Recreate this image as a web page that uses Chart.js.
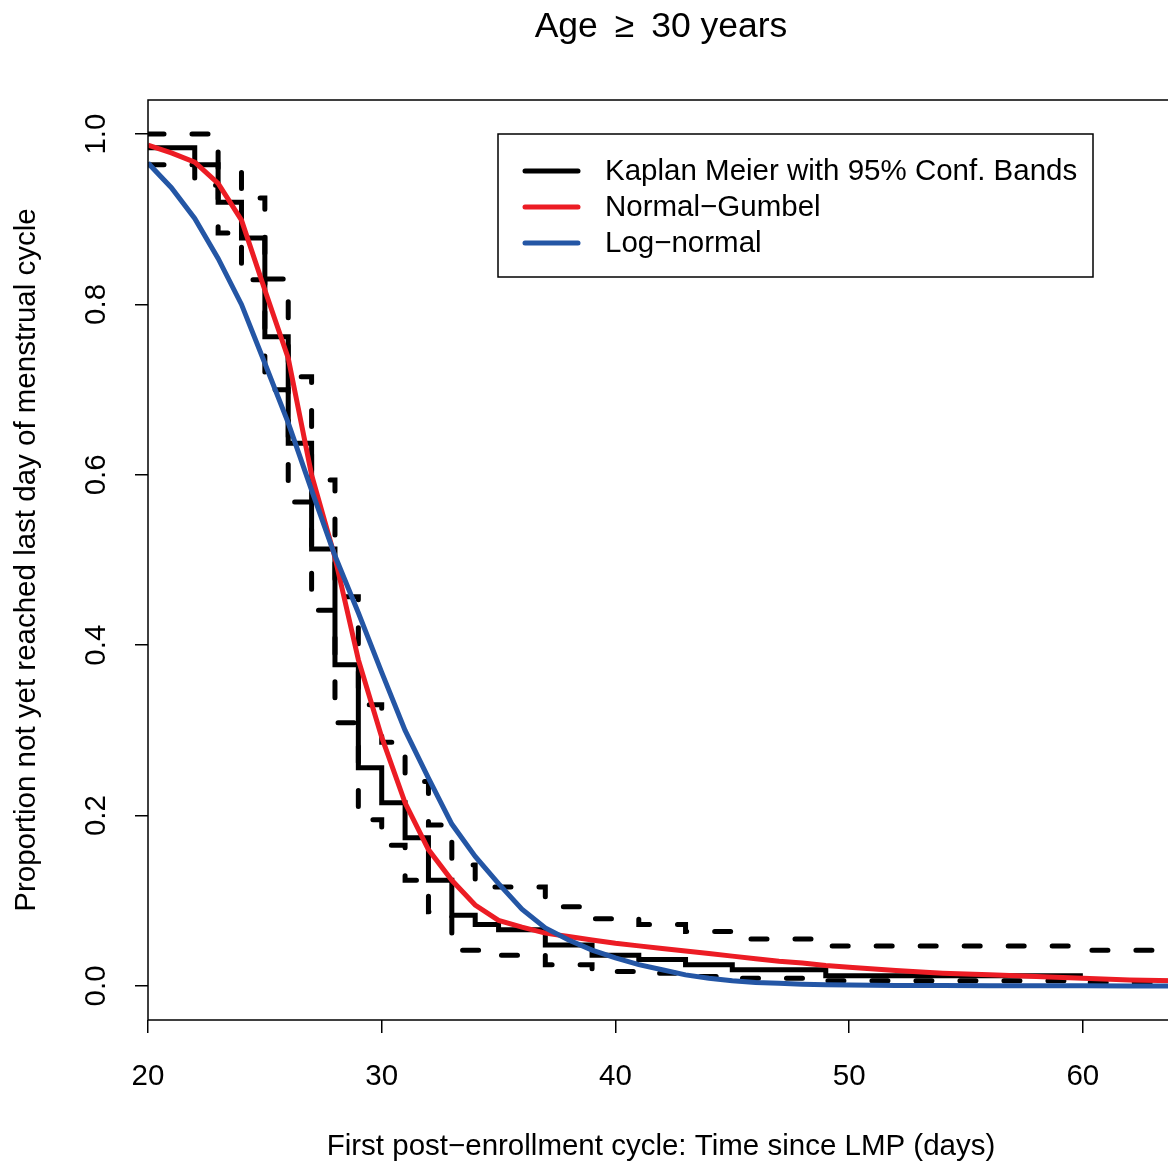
<!DOCTYPE html>
<html>
<head>
<meta charset="utf-8">
<title>Age ≥ 30 years</title>
<script src="https://cdn.jsdelivr.net/npm/chart.js@4/dist/chart.umd.min.js"></script>
<style>
  html, body { margin: 0; padding: 0; background: #fff; overflow: hidden; }
  canvas { display: block; }
</style>
</head>
<body>
<canvas id="chartSurvival" width="1176" height="1165"></canvas>
<script>
// Kaplan-Meier estimate: step times (days) and proportion remaining
const kmDays = [20, 22, 23, 24, 25, 26, 27, 28, 29, 30, 31, 32, 33, 34, 35, 37, 39, 41, 43, 45, 49, 60];
const kmSurv = [0.984, 0.964, 0.920, 0.878, 0.762, 0.637, 0.513, 0.377, 0.256, 0.215, 0.174,
                0.124, 0.083, 0.072, 0.066, 0.048, 0.036, 0.031, 0.025, 0.019, 0.012, 0.012];

// 95% confidence bands (same steps, carried to the right edge)
const bandDays  = [20, 22, 23, 24, 25, 26, 27, 28, 29, 30, 31, 32, 33, 34, 35, 37, 39, 41, 43, 45, 49, 60, 64];
const bandUpper = [1.000, 1.000, 0.960, 0.925, 0.830, 0.715, 0.594, 0.457, 0.330, 0.286, 0.240, 0.189,
                   0.142, 0.116, 0.116, 0.093, 0.079, 0.072, 0.064, 0.055, 0.047, 0.042, 0.042];
const bandLower = [0.964, 0.940, 0.884, 0.829, 0.700, 0.568, 0.441, 0.309, 0.195, 0.165, 0.124, 0.087,
                   0.042, 0.042, 0.036, 0.025, 0.017, 0.015, 0.011, 0.009, 0.006, 0.004, 0.004];

// Fitted survival curves
const fitDays = [20, 21, 22, 23, 24, 25, 26, 27, 28, 29, 30, 31, 32, 33, 34, 35, 36, 37, 38, 39,
                 40, 41, 42, 43, 44, 45, 46, 47, 48, 49, 50, 52, 54, 56, 58, 60, 62, 64];
const normalGumbel = [0.987, 0.978, 0.967, 0.942, 0.899, 0.817, 0.737, 0.600, 0.503, 0.383,
                      0.292, 0.215, 0.160, 0.124, 0.095, 0.077, 0.069, 0.062, 0.058, 0.054,
                      0.050, 0.047, 0.044, 0.041, 0.038, 0.035, 0.032, 0.029, 0.027, 0.024,
                      0.022, 0.018, 0.015, 0.013, 0.011, 0.009, 0.007, 0.006];
const logNormal = [0.966, 0.937, 0.901, 0.854, 0.800, 0.731, 0.661, 0.582, 0.505, 0.438,
                   0.368, 0.300, 0.244, 0.190, 0.152, 0.120, 0.090, 0.068, 0.054, 0.042,
                   0.033, 0.025, 0.019, 0.013, 0.009, 0.006, 0.004, 0.003, 0.002, 0.0015,
                   0.001, 0.0006, 0.0004, 0.0002, 0.0001, 0.0001, 0, 0];

const xTicks = [20, 30, 40, 50, 60];
const yTicks = [0, 0.2, 0.4, 0.6, 0.8, 1.0];

const red = '#EC1C24';
const blue = '#2456A5';
const FONT = '"Liberation Sans", Arial, Helvetica, sans-serif';

const legendItems = [
  { text: 'Kaplan Meier with 95% Conf. Bands', color: '#000000' },
  { text: 'Normal\u2212Gumbel', color: red },
  { text: 'Log\u2212normal', color: blue },
];

function pts(xs, ys) {
  return xs.map((x, i) => ({ x: x, y: ys[i] }));
}

// box around the plot, main title and legend
const decorations = {
  id: 'decorations',
  afterDraw(chart) {
    const { ctx, chartArea: a } = chart;
    ctx.save();
    ctx.strokeStyle = '#000';
    ctx.lineWidth = 1.5;
    ctx.strokeRect(a.left, a.top, a.right - a.left, a.bottom - a.top);

    ctx.fillStyle = '#000';
    ctx.font = '35.5px ' + FONT;
    ctx.textAlign = 'center';
    ctx.textBaseline = 'alphabetic';
    ctx.fillText('Age \u2009\u2265\u2009 30 years', (a.left + a.right) / 2, 37);

    const lx = a.left + 350, ly = a.top + 34;
    ctx.fillStyle = '#fff';
    ctx.fillRect(lx, ly, 595, 143);
    ctx.strokeRect(lx, ly, 595, 143);
    ctx.font = '29.5px ' + FONT;
    ctx.textAlign = 'left';
    ctx.textBaseline = 'middle';
    ctx.lineCap = 'round';
    legendItems.forEach((item, i) => {
      const y = ly + 37 + i * 36;
      ctx.strokeStyle = item.color;
      ctx.lineWidth = 5;
      ctx.beginPath();
      ctx.moveTo(lx + 27, y);
      ctx.lineTo(lx + 80, y);
      ctx.stroke();
      ctx.fillStyle = '#000';
      ctx.fillText(item.text, lx + 107, y + 1);
    });
    ctx.restore();
  }
};

new Chart(document.getElementById('chartSurvival'), {
  type: 'line',
  data: {
    datasets: [
      { label: 'Log-normal', data: pts(fitDays, logNormal), borderColor: blue, borderWidth: 5, tension: 0 },
      { label: 'Normal-Gumbel', data: pts(fitDays, normalGumbel), borderColor: red, borderWidth: 5, tension: 0 },
      { label: 'Kaplan Meier', data: pts(kmDays, kmSurv), borderColor: '#000', borderWidth: 5, stepped: 'before' },
      { label: 'Upper band', data: pts(bandDays, bandUpper), borderColor: '#000', borderWidth: 5,
        stepped: 'before', borderDash: [16, 28], borderCapStyle: 'round' },
      { label: 'Lower band', data: pts(bandDays, bandLower), borderColor: '#000', borderWidth: 5,
        stepped: 'before', borderDash: [16, 28], borderCapStyle: 'round' },
    ],
  },
  options: {
    responsive: false,
    animation: false,
    devicePixelRatio: 1,
    layout: { padding: { top: 100, right: 2, left: 0, bottom: 0 } },
    elements: { point: { radius: 0 }, line: { fill: false, borderJoinStyle: 'miter' } },
    plugins: { legend: { display: false }, tooltip: { enabled: false }, title: { display: false } },
    scales: {
      x: {
        type: 'linear',
        min: 20,
        max: 63.9,
        afterBuildTicks: (s) => { s.ticks = xTicks.map(v => ({ value: v })); },
        afterFit: (s) => { s.height = 145; },
        ticks: { color: '#000', font: { family: FONT, size: 29.5 }, padding: 26, maxRotation: 0 },
        grid: { drawOnChartArea: false, drawTicks: true, tickLength: 13, color: '#000', lineWidth: 1.5 },
        border: { display: false },
        title: {
          display: true,
          text: 'First post\u2212enrollment cycle: Time since LMP (days)',
          color: '#000',
          font: { family: FONT, size: 29.5 },
          padding: { top: 0, bottom: 0 },
        },
      },
      y: {
        type: 'linear',
        min: -0.04,
        max: 1.04,
        afterBuildTicks: (s) => { s.ticks = yTicks.map(v => ({ value: v })); },
        afterFit: (s) => { s.width = 148; },
        ticks: {
          color: '#000', font: { family: FONT, size: 29.5 }, padding: 18,
          minRotation: 90, maxRotation: 90, autoSkip: false, crossAlign: 'center',
          callback: (v) => v.toFixed(1),
        },
        grid: { drawOnChartArea: false, drawTicks: true, tickLength: 13, color: '#000', lineWidth: 1.5 },
        border: { display: false },
        title: {
          display: true,
          text: 'Proportion not yet reached last day of menstrual cycle',
          color: '#000',
          font: { family: FONT, size: 29.5 },
          padding: { top: 9, bottom: 0 },
        },
      },
    },
  },
  plugins: [decorations],
});
</script>
</body>
</html>
